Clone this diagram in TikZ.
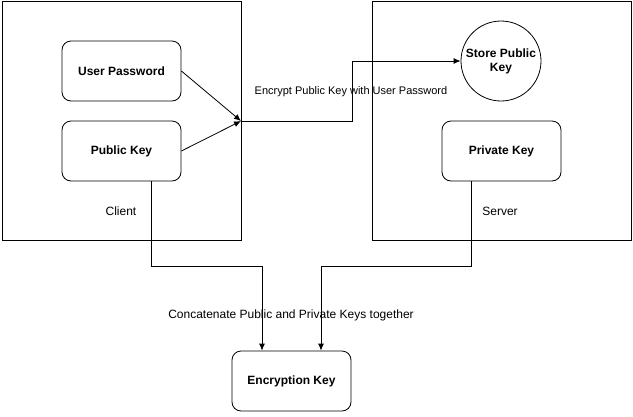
\documentclass[tikz,border=0pt]{standalone}
\usepackage{fontspec}
\setmainfont{Liberation Sans}
\usetikzlibrary{arrows.meta}

\begin{document}
\begin{tikzpicture}[x=1pt, y=-1pt,
    container/.style={draw, line width=0.8pt, inner sep=0pt, minimum width=239pt, minimum height=239pt},
    keybox/.style={draw, line width=0.8pt, rounded corners=9pt, minimum width=119pt, minimum height=60pt, font=\fontsize{12}{14}\selectfont\bfseries},
    store/.style={draw, circle, line width=0.8pt, minimum size=80pt, inner sep=0pt, align=center, font=\fontsize{12}{14}\selectfont\bfseries},
    note/.style={font=\fontsize{12}{14}\selectfont},
    conn/.style={line width=0.8pt, -{Latex[length=7pt,width=6pt]}}]
    \useasboundingbox (0,0) rectangle (633,416);
    % client side
    \node[container] (client) at (121.5, 120.5) {};
    \node[container, minimum width=259pt] (server) at (501.5, 120.5) {};
    \node[keybox] (password) at (121.5, 71) {User Password};
    \node[keybox] (public) at (121.5, 151) {Public Key};
    \node[note] (clientlabel) at (121, 211) {Client};
    % server side
    \node[store] (storekey) at (501, 61) {Store Public\\Key};
    \node[keybox] (private) at (501.5, 151) {Private Key};
    \node[note] (serverlabel) at (500, 211) {Server};
    \node[keybox] (enckey) at (291.5, 381) {Encryption Key};
    \coordinate (join) at (241, 121);
    \draw [conn] (password.east) -- (join);
    \draw [conn] (public.east) -- (join);
    \draw [conn] (join) -- (352, 121) |- (storekey.west);
    \node[note, font=\fontsize{11}{13}\selectfont] (encrypt) at (351, 91.5) {Encrypt Public Key with User Password};
    \draw [conn] ([xshift=29.5pt]public.south) |- (262, 266) -- ([xshift=-29.5pt]enckey.north);
    \draw [conn] ([xshift=-30.5pt]private.south) |- (321, 266) -- ([xshift=29.5pt]enckey.north);
    \node[note] (concat) at (291, 315) {Concatenate Public and Private Keys together};
\end{tikzpicture}
\end{document}
